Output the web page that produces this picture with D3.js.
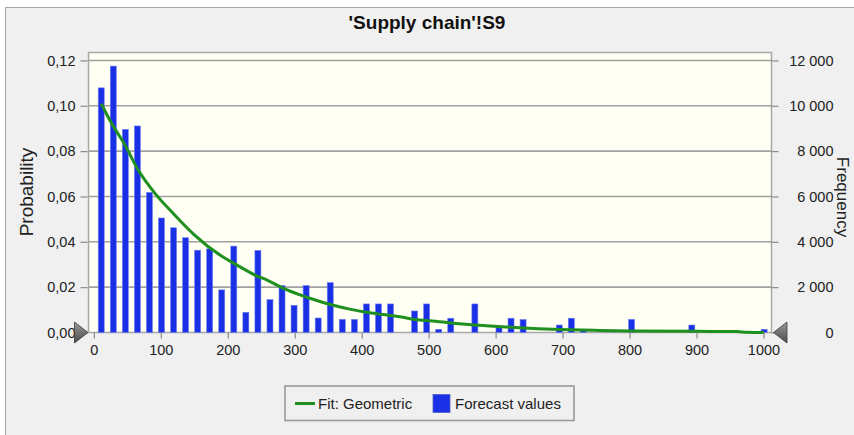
<!DOCTYPE html>
<html>
<head>
<meta charset="utf-8">
<script src="https://cdn.jsdelivr.net/npm/d3@7/dist/d3.min.js"></script>
<style>
  body { margin: 0; background: #ffffff; }
  text { font-family: "Liberation Sans", Arial, sans-serif; fill: #222; }
</style>
</head>
<body>
<div id="chart"></div>
<script>
// histogram bins (centre of each bin) and their probability
let binCenters = [11, 29, 47, 65, 83, 101, 119, 137, 155, 173, 191, 209, 227, 245, 263, 281, 299, 317, 335, 353,
    371, 389, 407, 425, 443, 461, 479, 497, 515, 533, 551, 569, 587, 605, 623, 641, 659, 677, 695, 713,
    731, 749, 767, 785, 803, 821, 839, 857, 875, 893, 911, 929, 947, 965, 983, 1001]
let binProb = [0.1079, 0.1175, 0.0896, 0.0911, 0.0618, 0.0505, 0.0462, 0.0418, 0.0363, 0.0369, 0.0188, 0.0381, 0.0089, 0.0362, 0.0145, 0.0207, 0.0120, 0.0207, 0.0064, 0.0220,
    0.0058, 0.0058, 0.0126, 0.0126, 0.0126, 0, 0.0095, 0.0126, 0.0014, 0.0063, 0, 0.0126, 0, 0.0029, 0.0063, 0.0057, 0, 0, 0.0033, 0.0063,
    0.0008, 0, 0, 0, 0.0058, 0, 0, 0, 0, 0.0033, 0, 0, 0, 0, 0, 0.0014]

// fitted geometric curve
let fitX = [11, 26, 46, 66, 91, 118, 150, 190, 215, 243, 258, 283, 308, 333, 357, 382, 407, 432, 457, 487, 502, 537, 586, 636, 686, 756, 800, 900, 960, 975, 1001]
let fitP = [0.1009, 0.0925, 0.0829, 0.0718, 0.0615, 0.0527, 0.0431, 0.0338, 0.0295, 0.0250, 0.0232, 0.0195, 0.0166, 0.0141, 0.0120, 0.0103, 0.0089, 0.0079, 0.0069, 0.0055, 0.0052, 0.0041, 0.0030, 0.0021, 0.0014, 0.0009, 0.0007, 0.0005, 0.0004, 0.0001, 0]

let xTicks = [0, 100, 200, 300, 400, 500, 600, 700, 800, 900, 1000]
let probTicks = [0, 0.02, 0.04, 0.06, 0.08, 0.10, 0.12]
let freqTicks = [0, 2000, 4000, 6000, 8000, 10000, 12000]

let titleText = "'Supply chain'!S9"
let legendLabels = ["Fit: Geometric", "Forecast values"]

let W = 854, H = 435
let plot = { left: 88.5, right: 771.5, top: 52.5, bottom: 332.5 }

let svg = d3.select("#chart").append("svg")
    .attr("width", W)
    .attr("height", H)

// grey panel
svg.append("rect")
    .attr("x", 5.5).attr("y", 7.5)
    .attr("width", W).attr("height", H)
    .attr("fill", "#f0f0f0")
    .attr("stroke", "#a8a8a8")

svg.append("text")
    .attr("x", 427).attr("y", 29)
    .attr("text-anchor", "middle")
    .style("font-size", "19px")
    .style("font-weight", "bold")
    .style("fill", "#111")
    .text(titleText)

let x = d3.scaleLinear().domain([-8, 1012]).range([plot.left, plot.right])
let y = d3.scaleLinear().domain([0, 0.1235]).range([plot.bottom, plot.top])
let yF = d3.scaleLinear().domain([0, 12350]).range([plot.bottom, plot.top])

svg.append("rect")
    .attr("x", plot.left).attr("y", plot.top)
    .attr("width", plot.right - plot.left)
    .attr("height", plot.bottom - plot.top)
    .attr("fill", "#fffff3")
    .attr("stroke", "#a8a8a8")
    .attr("stroke-width", 1.5)

// gridlines
svg.selectAll(".grid")
    .data(probTicks.filter(d => d > 0))
    .enter().append("line")
    .attr("x1", plot.left).attr("x2", plot.right)
    .attr("y1", d => y(d)).attr("y2", d => y(d))
    .attr("stroke", "#a0a0a0")
    .attr("stroke-width", 1.6)

// bars
let barW = 6
svg.selectAll(".bar")
    .data(binCenters.map((c, i) => ({ c: c, p: binProb[i] })).filter(d => d.p > 0))
    .enter().append("rect")
    .attr("x", d => x(d.c) - barW / 2)
    .attr("y", d => y(d.p))
    .attr("width", barW)
    .attr("height", d => y(0) - y(d.p))
    .attr("fill", "#1a30e6")
    .attr("stroke", "#6f7fee")
    .attr("stroke-width", 0.6)

// fit line
let fitData = fitX.map((v, i) => ({ v: v, p: fitP[i] }))
svg.append("path")
    .datum(fitData)
    .attr("fill", "none")
    .attr("stroke", "#1f8f1f")
    .attr("stroke-width", 3)
    .attr("stroke-linejoin", "round")
    .attr("d", d3.line().x(d => x(d.v)).y(d => y(d.p)).curve(d3.curveMonotoneX))

// axes
let fmtProb = d => d3.format(".2f")(d).replace(".", ",")
let fmtFreq = d => d3.format(",")(d).replace(",", " ")

let xAxisG = svg.append("g")
    .attr("transform", "translate(0," + plot.bottom + ")")
    .call(d3.axisBottom(x).tickValues(xTicks).tickFormat(d3.format("d")).tickSize(6).tickPadding(6))
let yAxisG = svg.append("g")
    .attr("transform", "translate(" + (plot.left - 1) + ",0)")
    .call(d3.axisLeft(y).tickValues(probTicks).tickFormat(fmtProb).tickSize(7).tickPadding(5))
let y2AxisG = svg.append("g")
    .attr("transform", "translate(" + plot.right + ",0)")
    .call(d3.axisRight(yF).tickValues(freqTicks).tickFormat(fmtFreq).tickSize(7).tickPadding(55))

;[xAxisG, yAxisG, y2AxisG].forEach(g => {
    g.select(".domain").remove()
    g.selectAll(".tick line").attr("stroke", "#8a8a8a").attr("stroke-width", 1.2)
    g.selectAll(".tick text").style("font-size", "14.5px").style("font-family", "'Liberation Sans', Arial, sans-serif").attr("fill", "#222")
})
y2AxisG.selectAll(".tick text").attr("text-anchor", "end")

// axis titles
svg.append("text")
    .attr("transform", "translate(33,192) rotate(-90)")
    .attr("text-anchor", "middle")
    .style("font-size", "19px")
    .text("Probability")
svg.append("text")
    .attr("transform", "translate(837,197) rotate(90)")
    .attr("text-anchor", "middle")
    .style("font-size", "17px")
    .text("Frequency")

// slider triangles
let tri = svg.append("defs").append("linearGradient")
    .attr("id", "tri").attr("x1", 0).attr("y1", 0).attr("x2", 0).attr("y2", 1)
tri.append("stop").attr("offset", "0%").attr("stop-color", "#9a9a9a")
tri.append("stop").attr("offset", "100%").attr("stop-color", "#4a4a4a")

let y0 = y(0)
svg.append("path")
    .attr("d", `M${plot.left - 14},${y0 - 10.5} L${plot.left - 0.5},${y0} L${plot.left - 14},${y0 + 10.5} Z`)
    .attr("fill", "url(#tri)").attr("stroke", "#3a3a3a").attr("stroke-width", 0.8)
svg.append("path")
    .attr("d", `M${plot.right + 15.5},${y0 - 10.5} L${plot.right + 2},${y0} L${plot.right + 15.5},${y0 + 10.5} Z`)
    .attr("fill", "url(#tri)").attr("stroke", "#3a3a3a").attr("stroke-width", 0.8)

// legend
let lg = svg.append("g")
lg.append("rect")
    .attr("x", 285).attr("y", 386)
    .attr("width", 289).attr("height", 34.5)
    .attr("fill", "#f0f0f0")
    .attr("stroke", "#999")
    .attr("stroke-width", 1.6)
lg.append("line")
    .attr("x1", 295).attr("x2", 315).attr("y1", 403.5).attr("y2", 403.5)
    .attr("stroke", "#1f8f1f").attr("stroke-width", 3)
lg.append("text").attr("x", 318).attr("y", 408.5).style("font-size", "15px").text(legendLabels[0])
lg.append("rect")
    .attr("x", 433).attr("y", 394.5).attr("width", 17).attr("height", 18)
    .attr("fill", "#1a30e6").attr("stroke", "#5060c0").attr("stroke-width", 0.8)
lg.append("text").attr("x", 455).attr("y", 408.5).style("font-size", "15px").text(legendLabels[1])
</script>
</body>
</html>
